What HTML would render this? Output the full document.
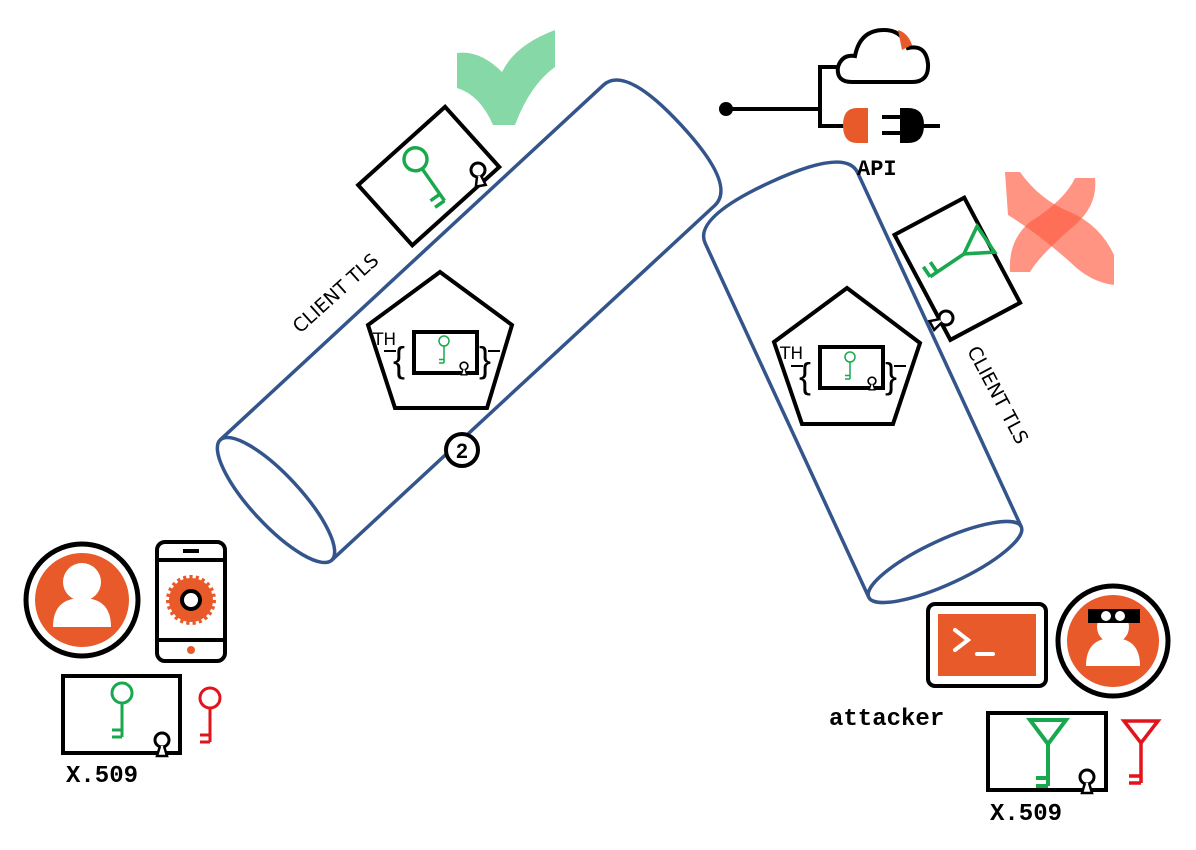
<!DOCTYPE html>
<html><head><meta charset="utf-8"><style>
html,body{margin:0;padding:0;background:#fff;width:1196px;height:850px;overflow:hidden}
svg{display:block}
.m{font-family:"Liberation Mono","DejaVu Sans Mono",monospace;font-weight:bold}
.s{font-family:"DejaVu Sans","Liberation Sans",sans-serif}
.b{font-family:"Liberation Sans",sans-serif;font-weight:normal}
</style></head><body>
<svg width="1196" height="850" viewBox="0 0 1196 850" xmlns="http://www.w3.org/2000/svg">
<defs>
<g id="gkey"><circle cx="0" cy="-22" r="10" fill="none" stroke-width="3"/><path d="M0 -12 V22 M0 22 H-10 M0 15 H-10" fill="none" stroke-width="3"/></g>
<g id="stamp"><circle cx="0" cy="0" r="7" fill="#fff" stroke="#000" stroke-width="3"/><path d="M-2 6 L-5 16 H5 L2 6" fill="#fff" stroke="#000" stroke-width="2.5"/></g>
</defs>

<!-- check mark -->
<path d="M457 53 Q480 50 502 72 Q515 45 555 30 L555 67 Q530 85 515 125 L493 125 Q480 95 457 88 Z" fill="#86d9a6"/>

<!-- left tube -->
<g transform="translate(276,500) rotate(-42.8)" fill="none" stroke="#34558b" stroke-width="3.5">
<ellipse cx="0" cy="0" rx="25" ry="82"/>
<path d="M0 -82 H522 Q552 -82 552 0 Q552 82 522 82 H0"/>
</g>
<!-- right tube -->
<g transform="translate(945,562) rotate(-114.8)" fill="none" stroke="#34558b" stroke-width="3.5">
<ellipse cx="0" cy="0" rx="22" ry="84"/>
<path d="M0 -84 H390 Q418 -84 418 0 Q418 84 390 84 H0"/>
</g>

<!-- left cert rotated -->
<g transform="translate(428,176) rotate(-42)">
<rect x="-58" y="-40" width="117" height="81" fill="#fff" stroke="#000" stroke-width="4"/>
</g>
<g transform="translate(430,180) rotate(-35) scale(1.15)" stroke="#1aa84f"><use href="#gkey"/></g>
<g transform="translate(478,170) rotate(-10)"><use href="#stamp"/></g>
<text class="s" font-size="19" transform="translate(340,298) rotate(-42)" text-anchor="middle">CLIENT TLS</text>

<!-- left pentagon -->
<polygon points="440,272 512,325 487,408 395,408 368,325" fill="#fff" stroke="#000" stroke-width="4"/>
<text class="s" x="373" y="345" font-size="17">TH</text>
<path d="M384 351 H396 M488 351 H500" stroke="#000" stroke-width="2"/>
<text class="b" x="393" y="372" font-size="36">{</text>
<text class="b" x="479" y="372" font-size="36">}</text>
<rect x="414" y="332" width="63" height="41" fill="#fff" stroke="#000" stroke-width="4"/>
<g transform="translate(444,352) scale(0.5)" stroke="#1aa84f"><use href="#gkey"/></g>
<g transform="translate(464,366) scale(0.55)"><use href="#stamp"/></g>

<circle cx="462" cy="450" r="16" fill="#fff" stroke="#000" stroke-width="4"/>
<text x="462" y="458" font-size="21" font-weight="bold" text-anchor="middle" font-family="Liberation Sans,sans-serif">2</text>

<!-- API -->
<circle cx="726" cy="109" r="7" fill="#000"/>
<path d="M726 109 H820 M842 67 H820 V126 H845" fill="none" stroke="#000" stroke-width="4"/>
<path d="M852 82 Q836 82 838 67 Q842 54 855 56 Q860 30 884 30 Q902 30 908 48 Q926 44 928 64 Q929 82 912 82 Z" fill="#fff" stroke="#000" stroke-width="4"/>
<path d="M898 30 Q908 33 912 45 L902 50 Z" fill="#e85a2a"/>
<path d="M868 108 H857 Q843 108 843 125 Q843 143 857 143 H868 Z" fill="#e85a2a"/>
<path d="M900 108 H908 Q924 108 924 125 Q924 143 908 143 H900 Z" fill="#000"/>
<path d="M882 117 H900 M882 133 H900 M922 126 H940" stroke="#000" stroke-width="4"/>
<text class="m" x="857" y="175" font-size="22">API</text>

<!-- red X -->
<g fill="#ff5a40">
<path opacity="0.65" d="M1005 172 L1020 172 Q1040 200 1070 212 Q1100 225 1114 255 L1114 285 Q1090 282 1070 262 Q1040 235 1008 215 Z"/>
<path opacity="0.65" d="M1075 178 L1095 178 Q1098 205 1075 225 Q1040 255 1030 272 L1010 272 Q1008 240 1030 222 Q1065 200 1075 178 Z"/>
</g>

<!-- right cert -->
<g transform="translate(958,269) rotate(-28)">
<rect x="-40" y="-60" width="79" height="119" fill="#fff" stroke="#000" stroke-width="4"/>
</g>
<g transform="translate(952,262) rotate(56) scale(1.2)" fill="none" stroke="#1aa84f" stroke-width="3">
<polygon points="-13,-34 13,-34 0,-12"/><path d="M0 -12 V22 M0 22 H-10 M0 15 H-10"/>
</g>
<g transform="translate(946,318) rotate(62)"><use href="#stamp"/></g>
<text class="s" font-size="19" transform="translate(992,398) rotate(62)" text-anchor="middle">CLIENT TLS</text>

<!-- right pentagon -->
<polygon points="847,288 920,343 893,424 802,424 774,342" fill="#fff" stroke="#000" stroke-width="4"/>
<text class="s" x="780" y="359" font-size="17">TH</text>
<path d="M791 366 H803 M894 366 H906" stroke="#000" stroke-width="2"/>
<text class="b" x="799" y="388" font-size="36">{</text>
<text class="b" x="885" y="388" font-size="36">}</text>
<rect x="820" y="347" width="63" height="41" fill="#fff" stroke="#000" stroke-width="4"/>
<g transform="translate(850,368) scale(0.5)" stroke="#1aa84f"><use href="#gkey"/></g>
<g transform="translate(872,381) scale(0.55)"><use href="#stamp"/></g>

<!-- bottom-left user -->
<circle cx="82" cy="600" r="56" fill="#fff" stroke="#000" stroke-width="5"/>
<circle cx="82" cy="600" r="47" fill="#e85a2a"/>
<circle cx="82" cy="582" r="19" fill="#fff"/>
<path d="M53 627 Q53 598 82 598 Q111 598 111 627 Z" fill="#fff"/>
<rect x="157" y="542" width="68" height="119" rx="8" fill="#fff" stroke="#000" stroke-width="4"/>
<path d="M157 560 H225 M157 640 H225 M183 551 H199" stroke="#000" stroke-width="4"/>
<circle cx="191" cy="650" r="4" fill="#e85a2a"/>
<circle cx="191" cy="600" r="22" fill="#e85a2a" stroke="#e85a2a" stroke-width="6" stroke-dasharray="3 3"/>
<circle cx="191" cy="600" r="9" fill="#fff" stroke="#000" stroke-width="4"/>
<rect x="63" y="676" width="117" height="77" fill="#fff" stroke="#000" stroke-width="4"/>
<g transform="translate(122,715)" stroke="#1aa84f"><use href="#gkey"/></g>
<g transform="translate(162,740)"><use href="#stamp"/></g>
<g transform="translate(210,720)" stroke="#e0141a"><use href="#gkey"/></g>
<text class="m" x="66" y="782" font-size="24">X.509</text>

<!-- bottom-right attacker -->
<rect x="928" y="604" width="118" height="82" rx="7" fill="#fff" stroke="#000" stroke-width="4"/>
<rect x="938" y="614" width="98" height="62" fill="#e85a2a"/>
<path d="M955 630 L968 640 L955 650 M977 654 H993" fill="none" stroke="#fff" stroke-width="4" stroke-linecap="round"/>
<circle cx="1113" cy="641" r="55" fill="#fff" stroke="#000" stroke-width="5"/>
<circle cx="1113" cy="641" r="46" fill="#e85a2a"/>
<circle cx="1113" cy="627" r="16" fill="#fff"/>
<path d="M1086 666 Q1086 638 1113 638 Q1140 638 1140 666 Z" fill="#fff"/>
<rect x="1088" y="609" width="52" height="14" fill="#000"/>
<circle cx="1106" cy="616" r="5" fill="#fff"/><circle cx="1120" cy="616" r="5" fill="#fff"/>
<text class="m" x="829" y="725" font-size="24">attacker</text>
<rect x="988" y="713" width="118" height="77" fill="#fff" stroke="#000" stroke-width="4"/>
<g transform="translate(1048,750)" fill="none" stroke="#1aa84f" stroke-width="4">
<polygon points="-18,-30 18,-30 0,-6"/><path d="M0 -6 V36 M0 36 H-12 M0 28 H-12"/>
</g>
<g transform="translate(1087,777)"><use href="#stamp"/></g>
<g transform="translate(1141,753)" fill="none" stroke="#e0141a" stroke-width="3.5">
<polygon points="-17,-32 17,-32 0,-10"/><path d="M0 -10 V30 M0 30 H-12 M0 23 H-12"/>
</g>
<text class="m" x="990" y="820" font-size="24">X.509</text>
</svg>
</body></html>
